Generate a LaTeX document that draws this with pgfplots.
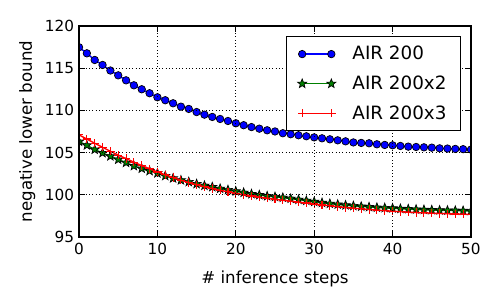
\documentclass[border=0pt]{standalone}
\usepackage{fontspec}
\setmainfont{DejaVu Sans}
\usepackage{pgfplots}
\pgfplotsset{compat=1.18}
\definecolor{mgreen}{rgb}{0,0.5,0}
\pgfdeclareplotmark{fstar}{%
  \pgfpathmoveto{\pgfpointpolar{90}{\pgfplotmarksize}}%
  \pgfpathlineto{\pgfpointpolar{126}{0.42\pgfplotmarksize}}%
  \pgfpathlineto{\pgfpointpolar{162}{\pgfplotmarksize}}%
  \pgfpathlineto{\pgfpointpolar{198}{0.42\pgfplotmarksize}}%
  \pgfpathlineto{\pgfpointpolar{234}{\pgfplotmarksize}}%
  \pgfpathlineto{\pgfpointpolar{270}{0.42\pgfplotmarksize}}%
  \pgfpathlineto{\pgfpointpolar{306}{\pgfplotmarksize}}%
  \pgfpathlineto{\pgfpointpolar{342}{0.42\pgfplotmarksize}}%
  \pgfpathlineto{\pgfpointpolar{18}{\pgfplotmarksize}}%
  \pgfpathlineto{\pgfpointpolar{54}{0.42\pgfplotmarksize}}%
  \pgfpathclose
  \pgfusepathqfillstroke}
\pgfplotstableread{
x blue green red
0 117.48 106.30 107.09
1 116.76 105.86 106.60
2 115.97 105.35 106.10
3 115.38 104.95 105.62
4 114.72 104.56 105.15
5 114.15 104.17 104.70
6 113.56 103.80 104.28
7 112.97 103.41 103.86
8 112.50 103.10 103.45
9 112.03 102.82 103.07
10 111.55 102.55 102.70
11 111.20 102.23 102.35
12 110.84 101.95 102.03
13 110.44 101.72 101.72
14 110.17 101.52 101.44
15 109.80 101.28 101.18
16 109.49 101.08 100.95
17 109.22 100.92 100.73
18 108.98 100.72 100.53
19 108.74 100.57 100.34
20 108.47 100.41 100.16
21 108.24 100.25 100.00
22 108.02 100.09 99.85
23 107.83 99.97 99.72
24 107.64 99.84 99.59
25 107.50 99.75 99.47
26 107.29 99.66 99.35
27 107.17 99.54 99.24
28 107.05 99.42 99.13
29 106.93 99.30 99.02
30 106.80 99.17 98.90
31 106.69 99.05 98.79
32 106.57 98.94 98.69
33 106.45 98.85 98.59
34 106.33 98.76 98.50
35 106.20 98.68 98.41
36 106.14 98.61 98.33
37 106.10 98.55 98.25
38 105.98 98.48 98.18
39 105.90 98.44 98.11
40 105.86 98.40 98.05
41 105.78 98.34 97.99
42 105.70 98.30 97.94
43 105.66 98.26 97.89
44 105.62 98.22 97.85
45 105.58 98.19 97.81
46 105.50 98.16 97.78
47 105.47 98.14 97.75
48 105.43 98.12 97.72
49 105.40 98.10 97.70
50 105.35 98.08 97.68
}\data
\begin{document}
\begin{tikzpicture}
\begin{axis}[
  at={(0,0)}, anchor=south west,
  scale only axis, width=282.2pt, height=151.9pt,
  xmin=0, xmax=50, ymin=95, ymax=120,
  xtick={0,10,...,50}, ytick={95,100,...,120},
  tick align=inside, major tick length=4pt,
  grid=major, grid style={dotted, black, line width=0.5pt},
  axis line style={line width=1pt},
  every tick/.style={black, line width=0.6pt},
  axis on top,
  clip marker paths=true,
  tick label style={font=\fontsize{11}{13}\selectfont},
  xticklabel style={yshift=-1pt},
  /pgf/number format/assume math mode=true,
  xlabel={\# inference steps}, ylabel={negative lower bound},
  every axis x label/.style={at={(axis description cs:0.5,-0.197)}, anchor=center, font=\fontsize{12}{14}\selectfont},
  every axis y label/.style={at={(axis description cs:-0.132,0.5)}, rotate=90, anchor=center, font=\fontsize{12}{14}\selectfont},
  legend style={at={(1,1)}, anchor=north east, xshift=-7.2pt, yshift=-7.2pt,
    draw=black, line width=0.8pt, fill=white,
    font=\fontsize{13.2}{15}\selectfont, row sep=6pt, inner xsep=8pt, inner ysep=5pt,
    cells={anchor=west},
    /tikz/every odd column/.append style={column sep=10pt}},
  legend image code/.code={\draw[#1] plot coordinates {(0pt,0pt) (21pt,0pt)};},
]
\addplot[blue, line width=1pt, mark=*, mark size=2.7pt,
  mark options={fill=blue, draw=black, line width=0.5pt}] table[x=x,y=blue] {\data};
\addlegendentry{AIR 200}
\addplot[mgreen, line width=1pt, mark=fstar, mark size=3.4pt,
  mark options={fill=mgreen, draw=black, line width=0.5pt}] table[x=x,y=green] {\data};
\addlegendentry{AIR 200x2}
\addplot[red, line width=1pt, mark=+, mark size=3pt,
  mark options={line width=0.8pt}] table[x=x,y=red] {\data};
\addlegendentry{AIR 200x3}
\end{axis}
\pgfresetboundingbox
\useasboundingbox (-56.9pt,-45.4pt) rectangle (303.1pt,170.6pt);
\end{tikzpicture}
\end{document}
